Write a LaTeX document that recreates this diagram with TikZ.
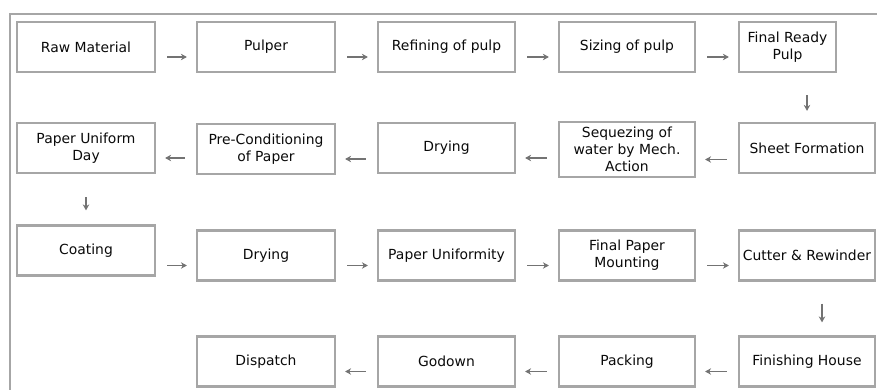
\documentclass[tikz,border=0pt]{standalone}
\usepackage{fontspec}
\setmainfont{DejaVu Sans}
\usetikzlibrary{arrows.meta}
\definecolor{boxgray}{RGB}{166,166,166}
\definecolor{arrgray}{RGB}{115,115,115}
\definecolor{txt}{RGB}{10,10,10}
\begin{document}
\begin{tikzpicture}[x=1pt,y=-1pt,
  box/.style={draw=boxgray,line width=2.2pt,fill=white,inner sep=0pt,
    minimum height=50pt,align=center,text=txt,
    font=\fontsize{13.9}{17}\selectfont},
  arr/.style={draw=arrgray,line width=1.6pt,-{Stealth[length=6pt,width=6.5pt]}},
  harr/.style={arr,shorten <=11pt,shorten >=9pt},
]
\useasboundingbox (0,0) rectangle (877,390);
% outer frame
\draw[boxgray,line width=2pt] (9.5,390) -- (9.5,14) -- (877,14);
% row 1
\node[box,minimum width=138pt] (raw) at (86,47) {Raw Material};
\node[box,minimum width=138pt] (pulper) at (266,47) {Pulper};
\node[box,minimum width=137pt] (refine) at (446.5,47) {Refining of pulp};
\node[box,minimum width=136pt] (sizing) at (627,47) {Sizing of pulp};
\node[box,minimum width=97pt] (ready) at (787.5,47) {Final Ready\\Pulp};
% row 2
\node[box,minimum width=138pt] (puday) at (86,148) {Paper Uniform\\Day};
\node[box,minimum width=138pt] (precond) at (266,149) {Pre-Conditioning\\of Paper};
\node[box,minimum width=137pt] (dryA) at (446.5,148) {Drying};
\node[box,minimum width=136pt,minimum height=55pt] (seq) at (627,149.5) {Sequezing of\\water by Mech.\\Action};
\node[box,minimum width=136pt] (sheet) at (807,148) {Sheet Formation};
% row 3
\node[box,minimum width=138pt] (coat) at (86,250.5) {Coating};
\node[box,minimum width=138pt] (dryB) at (266,255.5) {Drying};
\node[box,minimum width=137pt] (unif) at (446.5,255.5) {Paper Uniformity};
\node[box,minimum width=136pt] (mount) at (627,255.5) {Final Paper\\Mounting};
\node[box,minimum width=136pt] (cutter) at (807,255.5) {Cutter \& Rewinder};
% row 4
\node[box,minimum width=138pt] (dispatch) at (266,361.5) {Dispatch};
\node[box,minimum width=137pt] (godown) at (446.5,361.5) {Godown};
\node[box,minimum width=136pt] (packing) at (627,361.5) {Packing};
\node[box,minimum width=136pt] (finish) at (807,361.5) {Finishing House};
% row 1 arrows
\draw[harr] ([yshift=-10pt]raw.east |- pulper.west) -- ([yshift=-10pt]pulper.west);
\draw[harr] ([yshift=-10pt]pulper.east |- refine.west) -- ([yshift=-10pt]refine.west);
\draw[harr] ([yshift=-10pt]refine.east |- sizing.west) -- ([yshift=-10pt]sizing.west);
\draw[harr] ([yshift=-10pt]sizing.east |- ready.west) -- ([yshift=-10pt]ready.west);
% down 1
\draw[arr,shorten <=22pt,shorten >=11pt] (ready.south -| sheet.north) -- (sheet.north);
% row 2 arrows (leftward)
\draw[harr] ([yshift=-10pt]sheet.west |- seq.east) -- ([yshift=-10pt]seq.east);
\draw[harr] ([yshift=-10pt]seq.west |- dryA.east) -- ([yshift=-10pt]dryA.east);
\draw[harr] ([yshift=-10pt]dryA.west |- precond.east) -- ([yshift=-10pt]precond.east);
\draw[harr] ([yshift=-10pt]precond.west |- puday.east) -- ([yshift=-10pt]puday.east);
% down 2
\draw[arr,shorten <=23pt,shorten >=14pt] (puday.south) -- (coat.north);
% row 3 arrows
\draw[harr] ([yshift=-10pt]coat.east |- dryB.west) -- ([yshift=-10pt]dryB.west);
\draw[harr] ([yshift=-10pt]dryB.east |- unif.west) -- ([yshift=-10pt]unif.west);
\draw[harr] ([yshift=-10pt]unif.east |- mount.west) -- ([yshift=-10pt]mount.west);
\draw[harr] ([yshift=-10pt]mount.east |- cutter.west) -- ([yshift=-10pt]cutter.west);
% down 3
\draw[arr,shorten <=22pt,shorten >=13pt] ([xshift=15pt]cutter.south) -- ([xshift=15pt]finish.north);
% row 4 arrows (leftward)
\draw[harr] ([yshift=-10pt]finish.west |- packing.east) -- ([yshift=-10pt]packing.east);
\draw[harr] ([yshift=-10pt]packing.west |- godown.east) -- ([yshift=-10pt]godown.east);
\draw[harr] ([yshift=-10pt]godown.west |- dispatch.east) -- ([yshift=-10pt]dispatch.east);
\end{tikzpicture}
\end{document}
